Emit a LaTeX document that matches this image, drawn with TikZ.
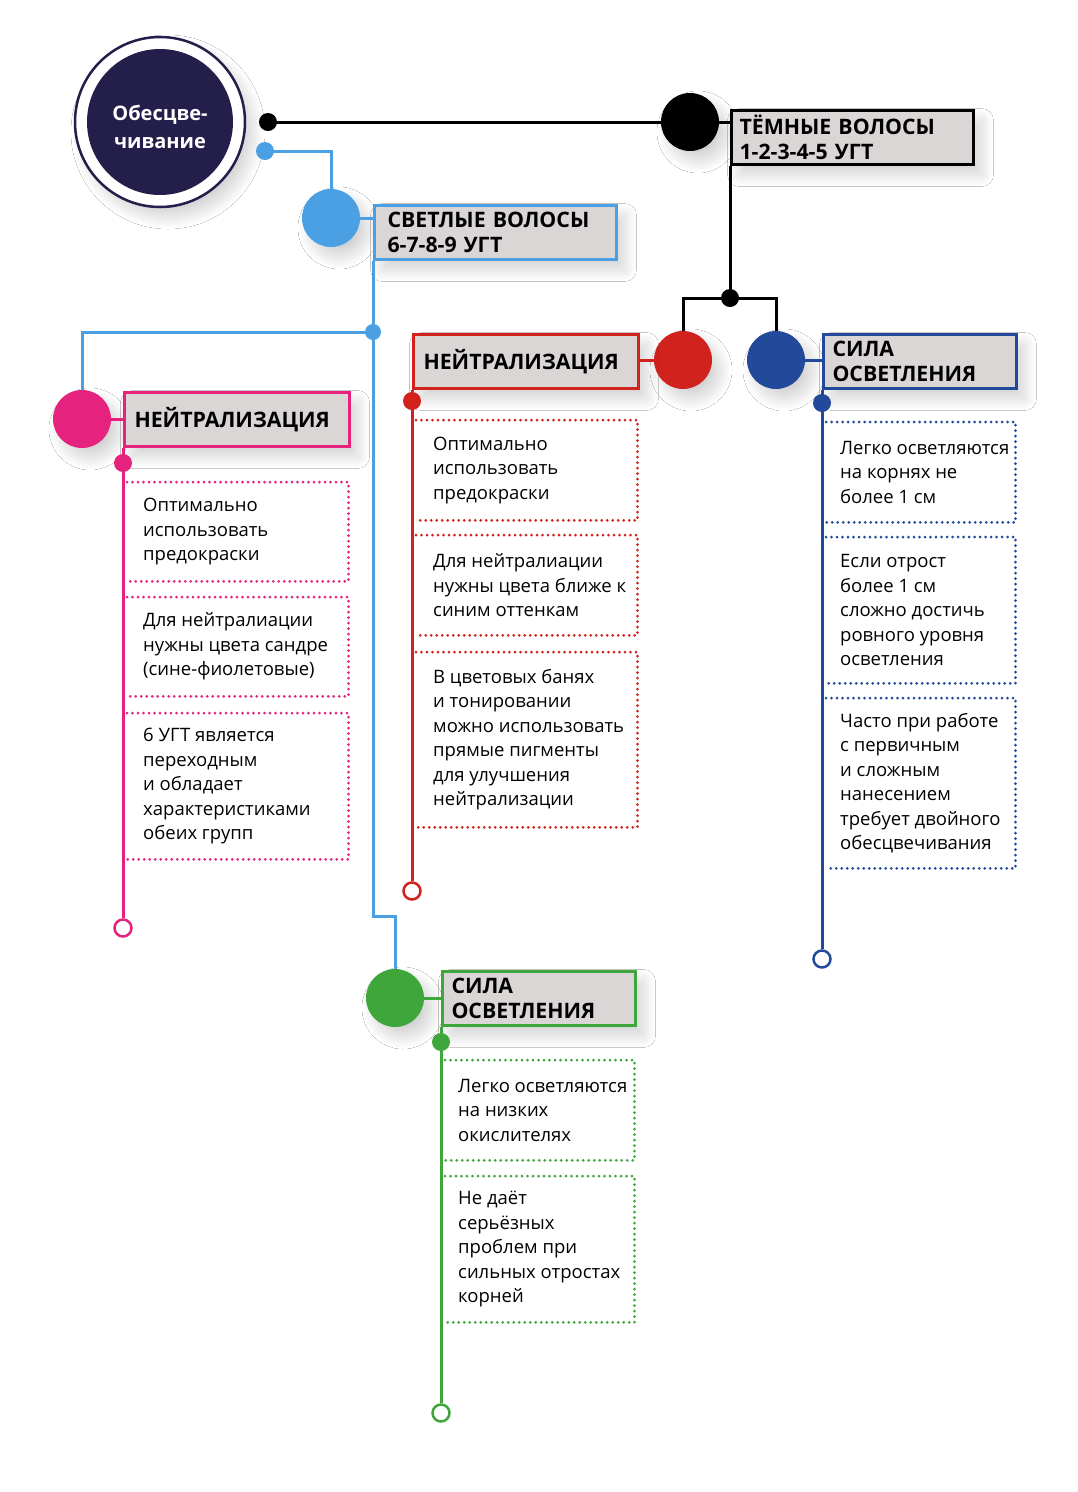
\documentclass[tikz,border=0pt]{standalone}
\usepackage{fontspec}
\setmainfont{Open Sans}
\usetikzlibrary{shadows.blur}
\definecolor{navy}{HTML}{231E4A}
\definecolor{cpink}{HTML}{E5237E}
\definecolor{cred}{HTML}{D2221D}
\definecolor{cblue}{HTML}{234A9A}
\definecolor{clight}{HTML}{4AA0E2}
\definecolor{cgreen}{HTML}{3FA63C}
\definecolor{hfill}{HTML}{DAD6D6}
\newcommand\hdrfnt{\fontsize{21.3}{25}\bfseries\selectfont}
\newcommand\bodyfnt{\fontsize{18.5}{24.5}\selectfont}
\newcommand\mainfnt{\fontsize{20}{28}\bfseries\selectfont}
\begin{document}
\begin{tikzpicture}[x=1pt,y=-1pt,
  conn/.style={line width=3pt, line join=miter},
  shd/.style={blur shadow={shadow xshift=8pt, shadow yshift=-10pt, shadow blur radius=12pt, shadow blur steps=24, shadow opacity=18}},
  big/.style={circle, fill=#1, minimum size=58pt, inner sep=0pt, shd},
  sdot/.style={circle, fill=#1, minimum size=18pt, inner sep=0pt},
  endc/.style={circle, draw=#1, fill=white, line width=2.5pt, minimum size=17pt, inner sep=0pt},
  hdr/.style={draw=#1, fill=hfill, line width=3pt, anchor=north west, align=left, inner ysep=0pt, minimum height=54pt, font=\hdrfnt, text=black, shd},
  dbox/.style={anchor=north west, inner sep=0pt},
  dotl/.style={draw=#1, line width=3pt, line cap=round, dash pattern=on 0pt off 5.5pt},
  btxt/.style={anchor=west, align=left, inner sep=0pt, font=\bodyfnt, text=black}
]
\useasboundingbox (0,0) rectangle (1077,1492);
\fill[white] (0,0) rectangle (1077,1492);

% main circle
\node[circle, draw=navy, line width=2.5pt, fill=white, minimum size=170pt, inner sep=0pt, shd] (ring) at (160,122) {};
\node[circle, fill=navy, minimum size=146pt, inner sep=0pt] (main) at (160,122) {};
\node[align=center, text=white, font=\mainfnt, inner sep=0pt] (maintxt) at (160,127) {Обесцве-\\чивание};

% dark branch
\node[sdot=black] (bdot) at (268,122) {};
\node[big=black] (cdark) at (690,122) {};
\node[hdr=black, minimum width=242pt, text width=226pt, inner xsep=8pt] (dkbox) at (730,109) {ТЁМНЫЕ ВОЛОСЫ\\1-2-3-4-5 УГТ};
\node[sdot=black] (jd) at (730,298) {};
\node[big=cred] (cred1) at (683,360) {};
\node[big=cblue] (cblue1) at (776,360) {};
\draw[conn, black] (bdot.center) -- (cdark);
\draw[conn, black] (cdark.east) -- (cdark.east -| dkbox.west);
\draw[conn, black] (dkbox.south west) -- (jd.center);
\draw[conn, black] (cred1.north) |- (jd.center) -| (cblue1.north);

% light branch
\node[sdot=clight] (lbdot) at (265,151) {};
\node[big=clight] (clb) at (331,218) {};
\node[hdr=clight, minimum width=242pt, text width=216pt, inner xsep=13pt] (lbox) at (373,204) {СВЕТЛЫЕ ВОЛОСЫ\\6-7-8-9 УГТ};
\node[sdot=clight, minimum size=16pt] (lbj) at (373,332) {};
\coordinate (lbbend) at (373,916);
\node[big=cpink] (cpk) at (82,419) {};
\node[big=cgreen] (cgr) at (395,998) {};
\draw[conn, clight] (lbdot.center) -| (clb.north);
\draw[conn, clight] (clb.east) -- (clb.east -| lbox.west);
\draw[conn, clight] (lbox.south west) -- (lbj.center) -- (lbbend) -| (cgr.north);
\draw[conn, clight] (lbj.center) -| (cpk.north);

% red header and list
\node[hdr=cred, minimum width=225pt, text width=205pt, inner xsep=10pt] (rbox) at (412,333) {НЕЙТРАЛИЗАЦИЯ};
\node[endc=cred] (rend) at (412,891) {};
\draw[conn, cred] (cred1.west) -- (cred1.west -| rbox.east);
\draw[conn, cred] (rbox.south west) -- (rend.north);
\node[sdot=cred] (rdot) at (412,401) {};

% blue header and list
\node[hdr=cblue, minimum width=193pt, text width=175pt, inner xsep=9pt] (bbox) at (822,333) {СИЛА\\ОСВЕТЛЕНИЯ};
\node[endc=cblue] (bend) at (822,959) {};
\draw[conn, cblue] (cblue1.east) -- (cblue1.east -| bbox.west);
\draw[conn, cblue] (bbox.south west) -- (bend.north);
\node[sdot=cblue] (bdot2) at (822,403) {};

% pink header and list
\node[hdr=cpink, minimum width=225pt, text width=205pt, inner xsep=10pt] (pbox) at (123,391) {НЕЙТРАЛИЗАЦИЯ};
\node[endc=cpink] (pend) at (123,928) {};
\draw[conn, cpink] (cpk.east) -- (cpk.east -| pbox.west);
\draw[conn, cpink] (pbox.south west) -- (pend.north);
\node[sdot=cpink] (pdot) at (123,463) {};

% green header and list
\node[hdr=cgreen, minimum width=193pt, text width=175pt, inner xsep=9pt] (gbox) at (441,970) {СИЛА\\ОСВЕТЛЕНИЯ};
\node[endc=cgreen] (gend) at (441,1413) {};
\draw[conn, cgreen] (cgr.east) -- (cgr.east -| gbox.west);
\draw[conn, cgreen] (gbox.south west) -- (gend.north);
\node[sdot=cgreen] (gdot) at (441,1042) {};

% pink dotted boxes
\node[dbox, minimum width=221pt, minimum height=99pt] (p1) at (127,482) {};
\node[dbox, minimum width=221pt, minimum height=99pt] (p2) at (127,597) {};
\node[dbox, minimum width=221pt, minimum height=146pt] (p3) at (127,713) {};
\foreach \b in {p1,p2,p3}{\draw[dotl=cpink] (\b.north west) -- (\b.north east) -- (\b.south east) -- (\b.south west);}
\node[btxt] (pt1) at ([xshift=16pt]p1.west) {Оптимально\\использовать\\предокраски};
\node[btxt] (pt2) at ([xshift=16pt]p2.west) {Для нейтралиации\\нужны цвета сандре\\(сине-фиолетовые)};
\node[btxt] (pt3) at ([xshift=16pt]p3.west) {6 УГТ является\\переходным\\и обладает\\характеристиками\\обеих групп};

% red dotted boxes
\node[dbox, minimum width=221pt, minimum height=100pt] (r1) at (416,420) {};
\node[dbox, minimum width=221pt, minimum height=100pt] (r2) at (416,535) {};
\node[dbox, minimum width=221pt, minimum height=175pt] (r3) at (416,652) {};
\foreach \b in {r1,r2,r3}{\draw[dotl=cred] (\b.north west) -- (\b.north east) -- (\b.south east) -- (\b.south west);}
\node[btxt] (rt1) at ([xshift=17pt]r1.west) {Оптимально\\использовать\\предокраски};
\node[btxt] (rt2) at ([xshift=17pt]r2.west) {Для нейтралиации\\нужны цвета ближе к\\синим оттенкам};
\node[btxt] (rt3) at ([xshift=17pt]r3.west) {В цветовых банях\\и тонировании\\можно использовать\\прямые пигменты\\для улучшения\\нейтрализации};

% blue dotted boxes
\node[dbox, minimum width=189pt, minimum height=100pt] (b1) at (826,422) {};
\node[dbox, minimum width=189pt, minimum height=146pt] (b2) at (826,537) {};
\node[dbox, minimum width=189pt, minimum height=170pt] (b3) at (826,698) {};
\foreach \b in {b1,b2,b3}{\draw[dotl=cblue] (\b.north west) -- (\b.north east) -- (\b.south east) -- (\b.south west);}
\node[btxt] (bt1) at ([xshift=14pt]b1.west) {Легко осветляются\\на корнях не\\более 1 см};
\node[btxt] (bt2) at ([xshift=14pt]b2.west) {Если отрост\\более 1 см\\сложно достичь\\ровного уровня\\осветления};
\node[btxt] (bt3) at ([xshift=14pt]b3.west) {Часто при работе\\с первичным\\и сложным\\нанесением\\требует двойного\\обесцвечивания};

% green dotted boxes
\node[dbox, minimum width=189pt, minimum height=100pt] (g1) at (445,1060) {};
\node[dbox, minimum width=189pt, minimum height=146pt] (g2) at (445,1176) {};
\foreach \b in {g1,g2}{\draw[dotl=cgreen] (\b.north west) -- (\b.north east) -- (\b.south east) -- (\b.south west);}
\node[btxt] (gt1) at ([xshift=13pt]g1.west) {Легко осветляются\\на низких\\окислителях};
\node[btxt] (gt2) at ([xshift=13pt]g2.west) {Не даёт\\серьёзных\\проблем при\\сильных отростах\\корней};
\end{tikzpicture}
\end{document}
